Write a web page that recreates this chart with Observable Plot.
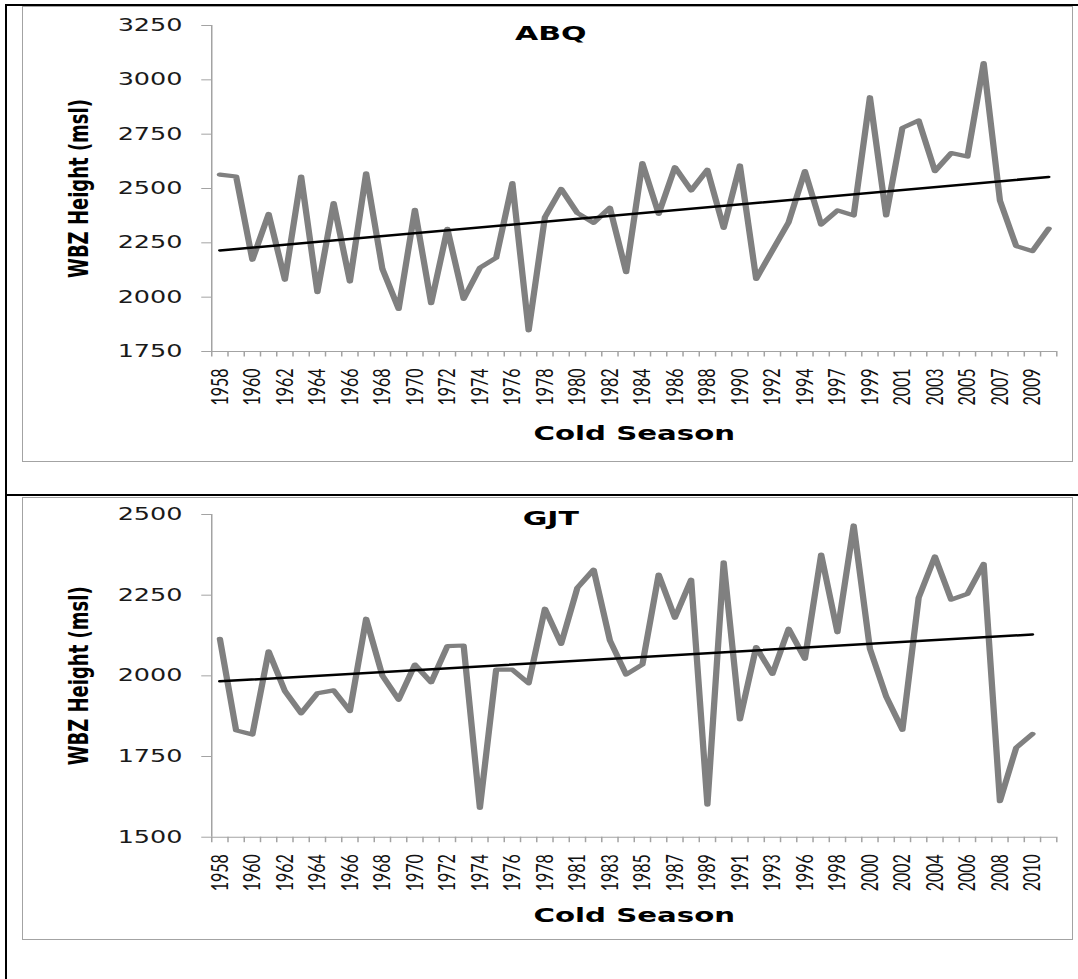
<!DOCTYPE html>
<html>
<head>
<meta charset="utf-8">
<script src="https://cdn.jsdelivr.net/npm/d3@7"></script>
<script src="https://cdn.jsdelivr.net/npm/@observablehq/plot@0.6"></script>
<style>
  html, body { margin: 0; padding: 0; background: #fff; }
  #page { position: relative; width: 1078px; height: 979px; overflow: hidden; background: #fff; }
  .rule { position: absolute; background: #000; }
  .frame { position: absolute; box-sizing: border-box; border: 1px solid #a3a3a3; pointer-events: none; }
  .panel { position: absolute; }
</style>
</head>
<body>
<div id="page">
  <div class="panel" id="abq" style="left:22px; top:6px;"></div>
  <div class="panel" id="gjt" style="left:22px; top:497px;"></div>
  <div class="frame" style="left:22px; top:6px; width:1051px; height:456px;"></div>
  <div class="frame" style="left:22px; top:497px; width:1051px; height:443px;"></div>
  <div class="rule" style="left:5px; top:4px; width:1073px; height:2px;"></div>
  <div class="rule" style="left:5px; top:494px; width:1073px; height:2px;"></div>
  <div class="rule" style="left:5px; top:4px; width:2px; height:975px;"></div>
</div>
<script>
// Cold-season wet-bulb-zero heights (m, msl)
const abqYears = [
  1958, 1959, 1960, 1961, 1962, 1963, 1964, 1965, 1966, 1967,
  1968, 1969, 1970, 1971, 1972, 1973, 1974, 1975, 1976, 1977,
  1978, 1979, 1980, 1981, 1982, 1983, 1984, 1985, 1986, 1987,
  1988, 1989, 1990, 1991, 1992, 1993, 1994, 1996, 1997, 1998,
  1999, 2000, 2001, 2002, 2003, 2004, 2005, 2006, 2007, 2008,
  2009, 2010
];
const abqHeight = [
  2564, 2555, 2172, 2383, 2080, 2555, 2023, 2433, 2072, 2570,
  2130, 1946, 2402, 1972, 2314, 1992, 2135, 2181, 2525, 1847,
  2368, 2498, 2387, 2342, 2411, 2115, 2617, 2383, 2598, 2491,
  2586, 2319, 2606, 2084, 2215, 2345, 2580, 2334, 2399, 2376,
  2920, 2376, 2779, 2813, 2580, 2663, 2647, 3077, 2445, 2235,
  2212, 2315
];
const abqTicks = [1750, 2000, 2250, 2500, 2750, 3000, 3250];

const gjtYears = [
  1958, 1959, 1960, 1961, 1962, 1963, 1964, 1965, 1966, 1967,
  1968, 1969, 1970, 1971, 1972, 1973, 1974, 1975, 1976, 1977,
  1978, 1980, 1981, 1982, 1983, 1984, 1985, 1986, 1987, 1988,
  1989, 1990, 1991, 1992, 1993, 1995, 1996, 1997, 1998, 1999,
  2000, 2001, 2002, 2003, 2004, 2005, 2006, 2007, 2008, 2009,
  2010
];
const gjtHeight = [
  2115, 1831, 1818, 2076, 1953, 1884, 1946, 1955, 1891, 2177,
  2001, 1926, 2035, 1980, 2092, 2094, 1591, 2019, 2019, 1977,
  2208, 2099, 2273, 2329, 2110, 2004, 2035, 2314, 2180, 2298,
  1601, 2352, 1865, 2089, 2006, 2146, 2053, 2376, 2135, 2466,
  2084, 1936, 1833, 2242, 2370, 2236, 2254, 2347, 1612, 1777,
  1820
];
const gjtTicks = [1500, 1750, 2000, 2250, 2500];

const xTitle = "Cold Season";
const yTitle = "WBZ Height (msl)";

// Both panels share the same category slots along x
const slots = Math.max(abqYears.length, gjtYears.length);

// The chart is drawn narrow and then widened, like a stretched spreadsheet chart
const STRETCH = 1.5;
const OUTER_W = 1051;
const FONT = "'DejaVu Sans', sans-serif";
const YEAR_FONT = "Lato, 'DejaVu Sans', sans-serif";

function drawPanel(target, {years, heights, yTicks, title, height, marginTop, marginBottom, titleDy, xTitleDy}) {
  const W = OUTER_W / STRETCH;
  const rows = years.map((year, i) => ({i, year, h: heights[i]}));
  const [y0, y1] = d3.extent(yTicks);
  const bounds = d3.range(slots + 1).map(i => i - 0.5);
  const labelled = d3.range(0, years.length, 2);

  const svg = Plot.plot({
    width: W,
    height,
    marginLeft: 126,
    marginRight: 11.3,
    marginTop,
    marginBottom,
    style: {fontFamily: FONT, background: "transparent", overflow: "visible"},
    x: {domain: [-0.5, slots - 0.5]},
    y: {domain: [y0, y1]},
    marks: [
      Plot.ruleY([y0], {stroke: "#a3a3a3", strokeWidth: 1}),
      Plot.ruleX([-0.5], {stroke: "#a3a3a3", strokeWidth: 1}),
      Plot.axisY(yTicks, {
        tickSize: 6.5, tickPadding: 13, tickFormat: d3.format("d"),
        fontSize: 17, stroke: "#a3a3a3", fill: "#1a1a1a", label: null
      }),
      Plot.axisX(bounds, {
        tickSize: 5.5, tickFormat: () => "", stroke: "#a3a3a3", label: null
      }),
      Plot.axisX(labelled, {
        tickSize: 0, tickPadding: 17, tickRotate: -90,
        tickFormat: i => String(years[i]), fontSize: 16, fontFamily: YEAR_FONT,
        fill: "#111", label: null
      }),
      Plot.line(rows, {
        x: "i", y: "h", stroke: "#808080", strokeWidth: 4.2,
        strokeLinejoin: "round"
      }),
      Plot.linearRegressionY(rows, {
        x: "i", y: "h", stroke: "#000", strokeWidth: 2.5, ci: 0
      }),
      Plot.text([title], {
        frameAnchor: "top-left", dx: 226, dy: titleDy,
        textAnchor: "middle", lineAnchor: "middle",
        fontSize: 20, fontWeight: "bold", fill: "#000"
      }),
      Plot.text([xTitle], {
        frameAnchor: "bottom", dy: xTitleDy,
        textAnchor: "middle", lineAnchor: "middle",
        fontSize: 19.5, fontWeight: "bold", fill: "#000"
      }),
      Plot.text([yTitle], {
        frameAnchor: "left", dx: -88, rotate: -90,
        textAnchor: "middle", lineAnchor: "middle",
        fontSize: 18, fontWeight: "bold", fill: "#000"
      })
    ]
  });

  svg.setAttribute("preserveAspectRatio", "none");
  svg.style.width = OUTER_W + "px";
  svg.style.height = height + "px";
  svg.style.maxWidth = "none";
  document.getElementById(target).appendChild(svg);
}

drawPanel("abq", {
  years: abqYears, heights: abqHeight, yTicks: abqTicks, title: "ABQ",
  height: 456, marginTop: 19, marginBottom: 111, titleDy: 8, xTitleDy: 82
});
drawPanel("gjt", {
  years: gjtYears, heights: gjtHeight, yTicks: gjtTicks, title: "GJT",
  height: 443, marginTop: 17, marginBottom: 103.3, titleDy: 4.5, xTitleDy: 79
});
</script>
</body>
</html>
